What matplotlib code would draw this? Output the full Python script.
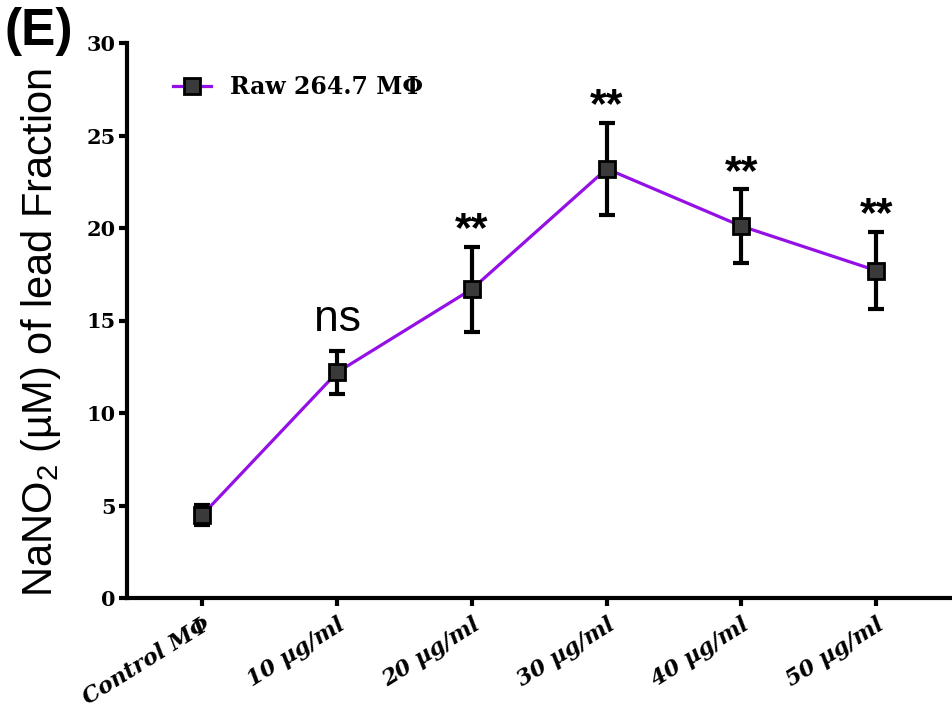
import numpy as np
import matplotlib
matplotlib.use('Agg')
import matplotlib.pyplot as plt

plt.rcParams['mathtext.default'] = 'regular'

groups = ['Control M\u03a6', '10 \u00b5g/ml', '20 \u00b5g/ml', '30 \u00b5g/ml', '40 \u00b5g/ml', '50 \u00b5g/ml']
nitrite = [4.5, 12.2, 16.7, 23.2, 20.1, 17.7]
sem = [0.55, 1.15, 2.3, 2.5, 2.0, 2.1]
marks = ['', 'ns', '**', '**', '**', '**']

PURPLE = '#9410e6'
SERIF = 'DejaVu Serif'
SANS = 'Liberation Sans'

fig = plt.figure(figsize=(9.53, 7.24), dpi=100)
ax = fig.add_axes([127 / 953, 1 - 598 / 724, 1 - 127 / 953, (598 - 43) / 724])

x = np.arange(len(groups))
ax.errorbar(x, nitrite, yerr=sem, fmt='none', ecolor='black',
            elinewidth=3, capsize=6, capthick=3, zorder=2)
ax.plot(x, nitrite, color=PURPLE, linewidth=2.3, marker='s', markersize=12,
        markerfacecolor='#3a3a3a', markeredgecolor='black', markeredgewidth=2,
        label='Raw 264.7 M\u03a6', zorder=3)

# significance marks above the error bars
for xi, yi, ei, m in zip(x, nitrite, sem, marks):
    if not m:
        continue
    if m == 'ns':
        ax.text(xi, yi + ei + 0.6, m, ha='center', va='bottom',
                fontsize=32, family=SANS)
    else:
        ax.text(xi, yi + ei - 0.2, m, ha='center', va='bottom',
                fontsize=31, family=SANS, fontweight='bold')

ax.set_xlim(-0.56, 5.57)
ax.set_ylim(0, 30)
ax.set_yticks([0, 5, 10, 15, 20, 25, 30])
ax.set_xticks(x)
ax.set_xticklabels(groups, rotation=32, ha='right', va='top',
                   rotation_mode='anchor', family=SERIF, fontsize=16,
                   fontweight='bold', fontstyle='italic')
for lab in ax.get_yticklabels():
    lab.set_family(SERIF)
    lab.set_fontsize(15)
    lab.set_fontweight('bold')

for side in ['top', 'right']:
    ax.spines[side].set_visible(False)
for side in ['left', 'bottom']:
    ax.spines[side].set_linewidth(3)
ax.tick_params(axis='both', length=6, width=3, direction='out', pad=2)
ax.tick_params(axis='x', pad=5)

ax.set_ylabel('NaNO$_2$ (\u00b5M) of lead Fraction', family=SANS, fontsize=30)
ax.yaxis.set_label_coords(-0.078, 0.478)

leg = ax.legend(loc='upper left', bbox_to_anchor=(0.03, 0.98), frameon=False,
                prop={'family': SERIF, 'weight': 'bold', 'size': 17},
                handlelength=1.6, handletextpad=0.8)

fig.text(0.005, 0.99, '(E)', family=SANS, fontweight='bold', fontsize=37,
         ha='left', va='top')

fig.savefig('out.png', dpi=100)
